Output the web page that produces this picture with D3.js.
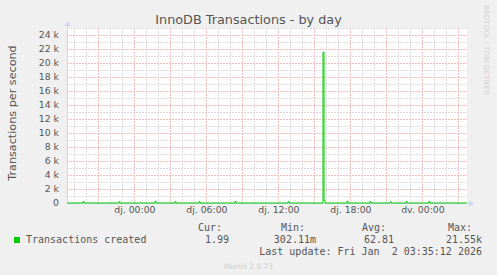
<!DOCTYPE html>
<html>
<head>
<meta charset="utf-8">
<script src="https://cdn.jsdelivr.net/npm/d3@7"></script>
<style>
  body { margin: 0; background: #f0f0f0; }
  svg text { font-family: "DejaVu Sans", sans-serif; }
  .mono { font-family: "DejaVu Sans Mono", monospace; white-space: pre; }
</style>
</head>
<body>
<svg id="graf" width="497" height="275"></svg>
<script>
// --- dades ---
const titol = "InnoDB Transactions - by day";
const etiquetaY = "Transactions per second";
const inici = "2025-12-31T18:23:00Z";
const fi = "2026-01-02T03:43:00Z";
const diesSetmana = ["dg.", "dl.", "dt.", "dc.", "dj.", "dv.", "ds."];
const yTicks = [0, 2000, 4000, 6000, 8000, 10000, 12000, 14000, 16000, 18000, 20000, 22000, 24000];
const yMax = 25000;

// mostres de 5 minuts (cada una dura fins la següent)
const temps = [
  "2025-12-31T18:23", "2025-12-31T19:43", "2025-12-31T19:48",
  "2025-12-31T22:43", "2025-12-31T22:48",
  "2026-01-01T01:43", "2026-01-01T01:48",
  "2026-01-01T03:23", "2026-01-01T03:28",
  "2026-01-01T05:23", "2026-01-01T05:28",
  "2026-01-01T08:23", "2026-01-01T08:28",
  "2026-01-01T12:48", "2026-01-01T12:53",
  "2026-01-01T15:43", "2026-01-01T15:48", "2026-01-01T15:53",
  "2026-01-01T17:43", "2026-01-01T17:48",
  "2026-01-01T19:38", "2026-01-01T19:43",
  "2026-01-01T21:18", "2026-01-01T21:23",
  "2026-01-01T22:38", "2026-01-01T22:43",
  "2026-01-02T00:33", "2026-01-02T00:38",
  "2026-01-02T03:43"
];
const valors = [
  1.2, 220, 1.0,
  180, 0.8,
  240, 1.1,
  200, 0.9,
  210, 1.3,
  230, 0.6,
  190, 0.3,
  21550, 350, 1.4,
  260, 1.0,
  200, 1.2,
  180, 0.9,
  210, 1.1,
  220, 1.5,
  1.99
];

const llegendaNom = "Transactions created";
const capcaleres = ["Cur:", "Min:", "Avg:", "Max:"];
const resum = ["1.99", "302.11m", "62.81", "21.55k"];
const darreraActualitzacio = "Last update: Fri Jan  2 03:35:12 2026";
const peu = "Munin 2.0.73";
const marcaAigua = "RRDTOOL / TOBI OETIKER";

const svg = d3.select("#graf");
const verd = "#00cc00";

const x = d3.scaleUtc().domain([new Date(inici), new Date(fi)]).range([67, 467]);
const y = d3.scaleLinear().domain([0, yMax]).range([203, 28]);

// fons del gràfic
svg.append("rect").attr("x", 67).attr("y", 28).attr("width", 400).attr("height", 175).attr("fill", "#fff");

// graella menor
const horesMenors = d3.utcHour.every(1).range(x.domain()[0], x.domain()[1]);
const horesMajors = horesMenors.filter(d => d.getUTCHours() % 3 === 0);
const horesEtiqueta = horesMenors.filter(d => d.getUTCHours() % 6 === 0);
const yMenors = d3.range(1000, yMax + 1, 1000);

const grisGraella = "#dcdcdc";
const vermellGraella = "#f0bcbc";

svg.append("g").selectAll("line").data(horesMenors.filter(d => d.getUTCHours() % 3 !== 0)).join("line")
  .attr("x1", d => Math.round(x(d)) + 0.5).attr("x2", d => Math.round(x(d)) + 0.5)
  .attr("y1", 28).attr("y2", 203)
  .attr("stroke", grisGraella).attr("stroke-dasharray", "2,1");
svg.append("g").selectAll("line").data(yMenors.filter(v => v % 2000 !== 0)).join("line")
  .attr("x1", 67).attr("x2", 467)
  .attr("y1", d => Math.round(y(d)) + 0.5).attr("y2", d => Math.round(y(d)) + 0.5)
  .attr("stroke", grisGraella).attr("stroke-dasharray", "2,1");

// graella major
svg.append("g").selectAll("line").data(horesMajors).join("line")
  .attr("x1", d => Math.round(x(d)) + 0.5).attr("x2", d => Math.round(x(d)) + 0.5)
  .attr("y1", 28).attr("y2", 203)
  .attr("stroke", vermellGraella).attr("stroke-dasharray", "2,1");
svg.append("g").selectAll("line").data(yTicks.filter(v => v > 0)).join("line")
  .attr("x1", 67).attr("x2", 467)
  .attr("y1", d => Math.round(y(d)) + 0.5).attr("y2", d => Math.round(y(d)) + 0.5)
  .attr("stroke", vermellGraella).attr("stroke-dasharray", "2,1");

// eixos
const eixY = svg.append("g").attr("transform", "translate(59,0)")
  .call(d3.axisLeft(y).tickValues(yTicks).tickSize(0).tickPadding(0)
    .tickFormat(v => v === 0 ? "0" : (v / 1000) + " k"));
eixY.select(".domain").remove();
eixY.selectAll("text").attr("fill", "#555").attr("font-size", "9.3px")
  .style("font-family", "DejaVu Sans");

const eixX = svg.append("g").attr("transform", "translate(0,206)")
  .call(d3.axisBottom(x).tickValues(horesEtiqueta).tickSize(0).tickPadding(0)
    .tickFormat(d => diesSetmana[d.getUTCDay()] + " " + d3.utcFormat("%H:%M")(d)));
eixX.select(".domain").remove();
eixX.selectAll("text").attr("fill", "#555").attr("font-size", "9.3px")
  .style("font-family", "DejaVu Sans");

const colorEix = "#cfd6f8";
svg.append("line").attr("x1", 67.5).attr("x2", 67.5).attr("y1", 203).attr("y2", 24).attr("stroke", colorEix);
svg.append("path").attr("d", "M64.5,26 L67.5,20.5 L70.5,26 Z").attr("fill", colorEix);
svg.append("line").attr("x1", 67).attr("x2", 471).attr("y1", 203.5).attr("y2", 203.5).attr("stroke", colorEix);
svg.append("path").attr("d", "M469,200.5 L474.5,203.5 L469,206.5 Z").attr("fill", colorEix);

// sèrie
const punts = temps.map((t, i) => ({ t: new Date(t + ":00Z"), v: valors[i] }));
const linia = d3.line().x(d => x(d.t)).y(d => y(d.v)).curve(d3.curveStepAfter);
svg.append("path").datum(punts).attr("d", linia)
  .attr("fill", "none").attr("stroke", verd).attr("stroke-width", 1);

// títol i etiquetes
svg.append("text").attr("x", 248.5).attr("y", 24).attr("text-anchor", "middle")
  .attr("font-size", "12.8px").attr("fill", "#555").text(titol);
svg.append("text").attr("transform", "translate(16,113) rotate(-90)").attr("text-anchor", "middle")
  .attr("font-size", "11.2px").attr("fill", "#555").text(etiquetaY);
svg.append("text").attr("transform", "translate(484,5) rotate(90)").attr("text-anchor", "start")
  .attr("font-size", "7px").attr("fill", "#d0d0d0").text(marcaAigua);

// llegenda
svg.append("rect").attr("x", 14).attr("y", 237).attr("width", 6).attr("height", 6).attr("fill", verd);
svg.append("text").attr("class", "mono").attr("x", 26).attr("y", 243.3)
  .attr("font-size", "10px").attr("fill", "#555").text(llegendaNom);
const colCap = [222, 305, 386, 472];
const colVal = [229, 316, 394, 482];
svg.append("g").selectAll("text").data(capcaleres).join("text").attr("class", "mono")
  .attr("x", (d, i) => colCap[i]).attr("y", 231).attr("text-anchor", "end")
  .attr("font-size", "10px").attr("fill", "#555").text(d => d);
svg.append("g").selectAll("text").data(resum).join("text").attr("class", "mono")
  .attr("x", (d, i) => colVal[i]).attr("y", 243.3).attr("text-anchor", "end")
  .attr("font-size", "10px").attr("fill", "#555").text(d => d);
svg.append("text").attr("class", "mono").attr("x", 482).attr("y", 254.5).attr("text-anchor", "end")
  .attr("font-size", "10px").attr("fill", "#555").text(darreraActualitzacio);
svg.append("text").attr("x", 248.5).attr("y", 269).attr("text-anchor", "middle")
  .attr("font-size", "7.5px").attr("fill", "#cccccc").text(peu);
</script>
</body>
</html>
